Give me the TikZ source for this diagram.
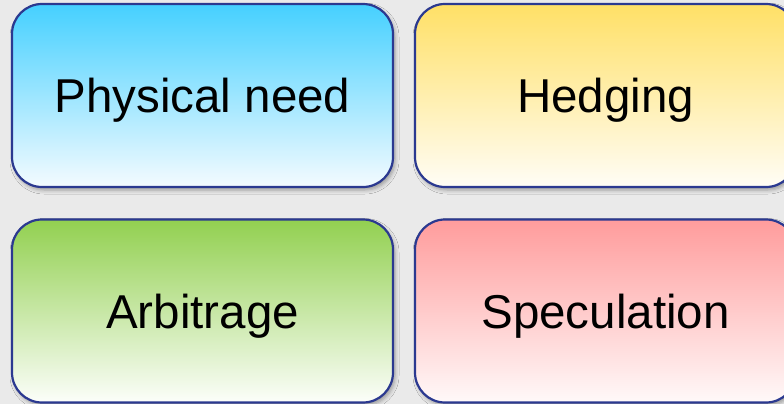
\documentclass[tikz,border=0pt]{standalone}
\usepackage{fontspec}
\setmainfont{Liberation Sans}
\usetikzlibrary{shadows.blur}
\definecolor{bg}{HTML}{EAEAEA}
\definecolor{edge}{HTML}{2B3990}
\definecolor{blueT}{HTML}{45D0FF}
\definecolor{blueB}{HTML}{F4FBFF}
\definecolor{yelT}{HTML}{FFE066}
\definecolor{yelB}{HTML}{FFFDF6}
\definecolor{grnT}{HTML}{92D050}
\definecolor{grnB}{HTML}{FCFEFA}
\definecolor{redT}{HTML}{FF9C9C}
\definecolor{redB}{HTML}{FFF9F9}
\tikzset{
  card/.style={draw=edge, line width=2.2pt, rounded corners=30pt,
    minimum width=381pt, minimum height=183pt, inner sep=0pt,
    text height=34pt, text depth=0pt,
    font=\fontsize{47.5}{57}\selectfont, text=black,
    blur shadow={shadow xshift=2pt, shadow yshift=-3pt, shadow blur radius=4pt, shadow opacity=35}},
}
\begin{document}
\begin{tikzpicture}[x=1pt,y=-1pt]
\useasboundingbox (0,0) rectangle (784,404);
\fill[bg] (0,0) rectangle (784,404);
\node[card, top color=blueT, bottom color=blueB] (phys) at (202.5,95.5) {Physical need};
\node[card, top color=yelT, bottom color=yelB] (hedg) at (605.5,95.5) {Hedging};
\node[card, top color=grnT, bottom color=grnB] (arbi) at (202.5,311) {Arbitrage};
\node[card, top color=redT, bottom color=redB] (spec) at (605.5,311) {Speculation};
\end{tikzpicture}
\end{document}
